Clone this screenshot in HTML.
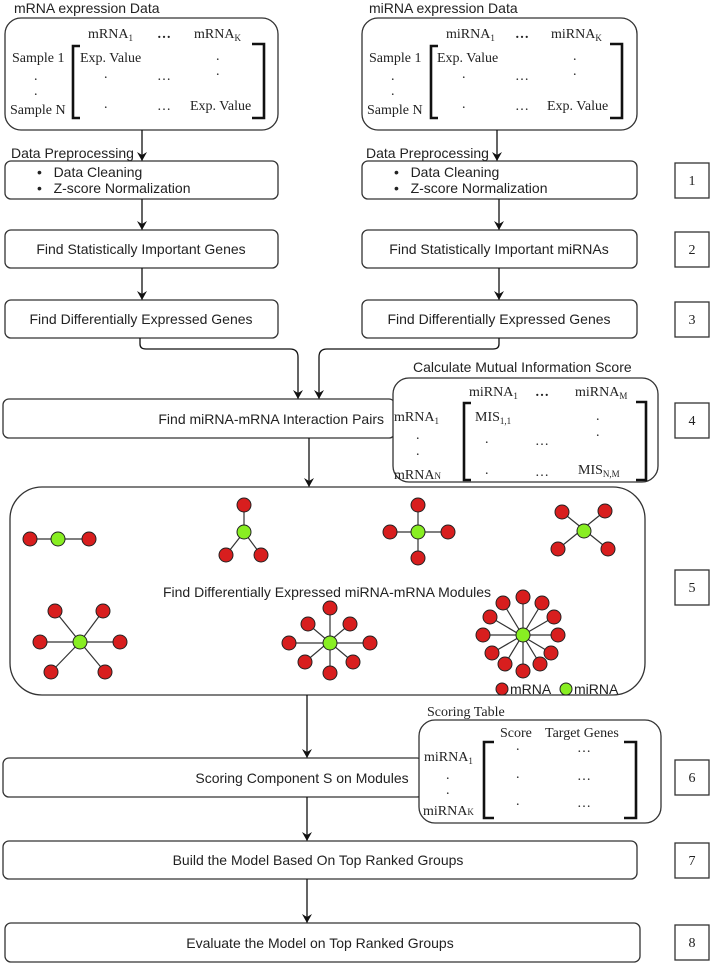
<!DOCTYPE html>
<html><head><meta charset="utf-8"><style>
html,body{margin:0;padding:0;background:#fff;}
svg{display:block;}
.s{font-family:"Liberation Sans",sans-serif;font-size:14px;fill:#222;}
.r{font-family:"Liberation Serif",serif;font-size:14px;fill:#222;}
.b{fill:#fff;stroke:#333;stroke-width:1.3;}
.br{fill:none;stroke:#111;stroke-width:2.6;}
.l{stroke:#111;stroke-width:1.3;fill:none;}
.e{stroke:#333;stroke-width:1.2;}
.rd{fill:#d81e1e;stroke:#222;stroke-width:1;}
.gr{fill:#88ee22;stroke:#222;stroke-width:1;}
</style></head><body>
<svg width="711" height="965" viewBox="0 0 711 965" xmlns="http://www.w3.org/2000/svg">
<defs><marker id="a" markerWidth="10" markerHeight="10" refX="9" refY="5" orient="auto" markerUnits="userSpaceOnUse"><path d="M0,0 L9,5 L0,10 L3,5 Z" fill="#111"/></marker></defs>

<!-- top matrices -->
<text class="s" x="14" y="13">mRNA expression Data</text>
<rect class="b" x="5" y="18" width="273" height="112" rx="16"/>
<text class="r" x="88" y="38">mRNA<tspan font-size="9" dy="3">1</tspan></text>
<text class="r" x="157" y="38" font-weight="bold">…</text>
<text class="r" x="194" y="38">mRNA<tspan font-size="9" dy="3">K</tspan></text>
<text class="r" x="12" y="62">Sample 1</text>
<text class="r" x="34" y="80">.</text><text class="r" x="34" y="95">.</text>
<text class="r" x="10" y="114">Sample N</text>
<path class="br" d="M80,46 H73 V118 H80"/><path class="br" d="M252,44 H264 V118 H252"/>
<text class="r" x="80" y="62">Exp. Value</text>
<text class="r" x="104" y="78">.</text><text class="r" x="157" y="80">…</text>
<text class="r" x="216" y="60">.</text><text class="r" x="216" y="75">.</text>
<text class="r" x="104" y="108">.</text><text class="r" x="157" y="110">…</text>
<text class="r" x="190" y="110">Exp. Value</text>

<text class="s" x="369" y="13">miRNA expression Data</text>
<rect class="b" x="362" y="18" width="275" height="112" rx="16"/>
<text class="r" x="446" y="38">miRNA<tspan font-size="9" dy="3">1</tspan></text>
<text class="r" x="515" y="38" font-weight="bold">…</text>
<text class="r" x="551" y="38">miRNA<tspan font-size="9" dy="3">K</tspan></text>
<text class="r" x="369" y="62">Sample 1</text>
<text class="r" x="391" y="80">.</text><text class="r" x="391" y="95">.</text>
<text class="r" x="367" y="114">Sample N</text>
<path class="br" d="M438,46 H431 V118 H438"/><path class="br" d="M610,44 H622 V118 H610"/>
<text class="r" x="437" y="62">Exp. Value</text>
<text class="r" x="462" y="78">.</text><text class="r" x="515" y="80">…</text>
<text class="r" x="573" y="60">.</text><text class="r" x="573" y="75">.</text>
<text class="r" x="462" y="108">.</text><text class="r" x="515" y="110">…</text>
<text class="r" x="547" y="110">Exp. Value</text>

<line class="l" x1="142" y1="130" x2="142" y2="161" marker-end="url(#a)"/>
<line class="l" x1="497" y1="130" x2="497" y2="161" marker-end="url(#a)"/>
<text class="s" x="11" y="158">Data Preprocessing</text>
<text class="s" x="366" y="158">Data Preprocessing</text>

<!-- box 1 -->
<rect class="b" x="5" y="161" width="273" height="38" rx="6"/>
<text class="s" x="37" y="177">•&#160;&#160;&#160;Data Cleaning</text>
<text class="s" x="37" y="193">•&#160;&#160;&#160;Z-score Normalization</text>
<rect class="b" x="362" y="161" width="275" height="38" rx="6"/>
<text class="s" x="394" y="177">•&#160;&#160;&#160;Data Cleaning</text>
<text class="s" x="394" y="193">•&#160;&#160;&#160;Z-score Normalization</text>

<line class="l" x1="142" y1="199" x2="142" y2="230" marker-end="url(#a)"/>
<line class="l" x1="499" y1="199" x2="499" y2="230" marker-end="url(#a)"/>
<rect class="b" x="5" y="230" width="273" height="38" rx="6"/>
<text class="s" x="141" y="254" text-anchor="middle">Find Statistically Important Genes</text>
<rect class="b" x="362" y="230" width="275" height="38" rx="6"/>
<text class="s" x="499" y="254" text-anchor="middle">Find Statistically Important miRNAs</text>

<line class="l" x1="142" y1="268" x2="142" y2="300" marker-end="url(#a)"/>
<line class="l" x1="499" y1="268" x2="499" y2="300" marker-end="url(#a)"/>
<rect class="b" x="5" y="300" width="273" height="38" rx="6"/>
<text class="s" x="141" y="324" text-anchor="middle">Find Differentially Expressed Genes</text>
<rect class="b" x="362" y="300" width="275" height="38" rx="6"/>
<text class="s" x="499" y="324" text-anchor="middle">Find Differentially Expressed Genes</text>

<path class="l" d="M140,338 V344 Q140,349 146,349 H290 Q298,349 298,357 V399" marker-end="url(#a)"/>
<path class="l" d="M499,338 V344 Q499,349 493,349 H327 Q319,349 319,357 V399" marker-end="url(#a)"/>

<!-- box 4 -->
<rect class="b" x="3" y="399" width="392" height="39" rx="6"/>
<text class="s" x="384" y="424" text-anchor="end">Find miRNA-mRNA Interaction Pairs</text>
<text class="s" x="413" y="372">Calculate Mutual Information Score</text>
<rect class="b" x="393" y="378" width="265" height="104" rx="16"/>
<text class="r" x="469" y="396">miRNA<tspan font-size="9" dy="3">1</tspan></text>
<text class="r" x="535" y="396" font-weight="bold">…</text>
<text class="r" x="575" y="396">miRNA<tspan font-size="9" dy="3">M</tspan></text>
<text class="r" x="394" y="421">mRNA<tspan font-size="9" dy="3">1</tspan></text>
<text class="r" x="416" y="439">.</text><text class="r" x="416" y="455">.</text>
<text class="r" x="394" y="479">mRNA<tspan font-size="9">N</tspan></text>
<path class="br" d="M471,403 H464 V480 H471"/><path class="br" d="M636,402 H646 V480 H636"/>
<text class="r" x="475" y="421">MIS<tspan font-size="9" dy="3">1,1</tspan></text>
<text class="r" x="485" y="443">.</text><text class="r" x="535" y="445">…</text>
<text class="r" x="596" y="420">.</text><text class="r" x="596" y="436">.</text>
<text class="r" x="485" y="474">.</text><text class="r" x="535" y="476">…</text>
<text class="r" x="578" y="474">MIS<tspan font-size="9" dy="3">N,M</tspan></text>

<line class="l" x1="309" y1="438" x2="309" y2="487" marker-end="url(#a)"/>

<!-- big box 5 -->
<rect class="b" x="10" y="487" width="635" height="208" rx="32"/>
<text class="s" x="327" y="597" text-anchor="middle">Find Differentially Expressed miRNA-mRNA Modules</text>
<g class="e">
<line x1="30" y1="539" x2="89" y2="539"/>
<line x1="244" y1="532" x2="244" y2="505"/><line x1="244" y1="532" x2="226" y2="555"/><line x1="244" y1="532" x2="261" y2="555"/>
<line x1="418" y1="505" x2="418" y2="558"/><line x1="390" y1="532" x2="448" y2="532"/>
<line x1="562" y1="512" x2="608" y2="549"/><line x1="605" y1="511" x2="558" y2="549"/>
<line x1="80" y1="642" x2="55" y2="611"/><line x1="80" y1="642" x2="103" y2="611"/><line x1="40" y1="642" x2="120" y2="642"/><line x1="80" y1="642" x2="51" y2="672"/><line x1="80" y1="642" x2="105" y2="672"/>
<line x1="330" y1="608" x2="330" y2="673"/><line x1="289" y1="643" x2="370" y2="643"/><line x1="308" y1="624" x2="353" y2="662"/><line x1="350" y1="624" x2="305" y2="662"/>
<line x1="523" y1="597" x2="523" y2="671"/><line x1="483" y1="635" x2="558" y2="635"/><line x1="503" y1="603" x2="540" y2="664"/><line x1="542" y1="603" x2="505" y2="664"/><line x1="490" y1="617" x2="551" y2="653"/><line x1="554" y1="617" x2="492" y2="653"/>
</g>
<g class="rd">
<circle cx="30" cy="539" r="7"/><circle cx="89" cy="539" r="7"/>
<circle cx="244" cy="505" r="7"/><circle cx="226" cy="555" r="7"/><circle cx="261" cy="555" r="7"/>
<circle cx="418" cy="505" r="7"/><circle cx="390" cy="532" r="7"/><circle cx="448" cy="532" r="7"/><circle cx="418" cy="558" r="7"/>
<circle cx="562" cy="512" r="7"/><circle cx="605" cy="511" r="7"/><circle cx="558" cy="549" r="7"/><circle cx="608" cy="549" r="7"/>
<circle cx="55" cy="611" r="7"/><circle cx="103" cy="611" r="7"/><circle cx="40" cy="642" r="7"/><circle cx="120" cy="642" r="7"/><circle cx="51" cy="672" r="7"/><circle cx="105" cy="672" r="7"/>
<circle cx="330" cy="608" r="7"/><circle cx="308" cy="624" r="7"/><circle cx="350" cy="624" r="7"/><circle cx="289" cy="643" r="7"/><circle cx="370" cy="643" r="7"/><circle cx="305" cy="662" r="7"/><circle cx="353" cy="662" r="7"/><circle cx="330" cy="673" r="7"/>
<circle cx="523" cy="597" r="7"/><circle cx="503" cy="603" r="7"/><circle cx="542" cy="603" r="7"/><circle cx="490" cy="617" r="7"/><circle cx="554" cy="617" r="7"/><circle cx="483" cy="635" r="7"/><circle cx="558" cy="635" r="7"/><circle cx="492" cy="653" r="7"/><circle cx="551" cy="653" r="7"/><circle cx="505" cy="664" r="7"/><circle cx="540" cy="664" r="7"/><circle cx="523" cy="671" r="7"/>
<circle cx="502" cy="689" r="6"/>
</g>
<g class="gr">
<circle cx="58" cy="539" r="7"/><circle cx="244" cy="532" r="7"/><circle cx="418" cy="532" r="7"/><circle cx="584" cy="531" r="7"/>
<circle cx="80" cy="642" r="7"/><circle cx="330" cy="643" r="7"/><circle cx="523" cy="635" r="7"/>
<circle cx="566" cy="689" r="6"/>
</g>
<text class="s" x="510" y="694">mRNA</text>
<text class="s" x="574" y="694">miRNA</text>

<line class="l" x1="307" y1="695" x2="307" y2="758" marker-end="url(#a)"/>

<!-- box 6 -->
<rect class="b" x="3" y="758" width="420" height="39" rx="6"/>
<text class="s" x="302" y="783" text-anchor="middle">Scoring Component S on Modules</text>
<text class="r" x="427" y="716">Scoring Table</text>
<rect class="b" x="419" y="720" width="242" height="103" rx="16"/>
<text class="r" x="500" y="737">Score</text><text class="r" x="545" y="737">Target Genes</text>
<text class="r" x="424" y="761">miRNA<tspan font-size="9" dy="3">1</tspan></text>
<text class="r" x="446" y="779">.</text><text class="r" x="446" y="794">.</text>
<text class="r" x="423" y="815">miRNA<tspan font-size="9">K</tspan></text>
<path class="br" d="M494,742 H484 V818 H494"/><path class="br" d="M624,742 H636 V818 H624"/>
<text class="r" x="516" y="750">.</text><text class="r" x="577" y="752">…</text>
<text class="r" x="516" y="778">.</text><text class="r" x="577" y="780">…</text>
<text class="r" x="516" y="805">.</text><text class="r" x="577" y="807">…</text>

<line class="l" x1="307" y1="797" x2="307" y2="841" marker-end="url(#a)"/>
<rect class="b" x="3" y="841" width="634" height="38" rx="6"/>
<text class="s" x="318" y="865" text-anchor="middle">Build the Model Based On Top Ranked Groups</text>
<line class="l" x1="307" y1="879" x2="307" y2="923" marker-end="url(#a)"/>
<rect class="b" x="5" y="923" width="635" height="39" rx="6"/>
<text class="s" x="320" y="948" text-anchor="middle">Evaluate the Model on Top Ranked Groups</text>

<!-- numbers -->
<g class="b">
<rect x="675" y="163" width="34" height="35"/><rect x="675" y="232" width="34" height="35"/><rect x="675" y="302" width="34" height="35"/>
<rect x="675" y="403" width="34" height="35"/><rect x="675" y="570" width="34" height="35"/><rect x="675" y="760" width="34" height="35"/>
<rect x="675" y="843" width="34" height="35"/><rect x="675" y="925" width="34" height="35"/>
</g>
<g class="r" text-anchor="middle">
<text x="692" y="185">1</text><text x="692" y="254">2</text><text x="692" y="324">3</text><text x="692" y="425">4</text>
<text x="692" y="592">5</text><text x="692" y="782">6</text><text x="692" y="865">7</text><text x="692" y="947">8</text>
</g>
</svg>
</body></html>
